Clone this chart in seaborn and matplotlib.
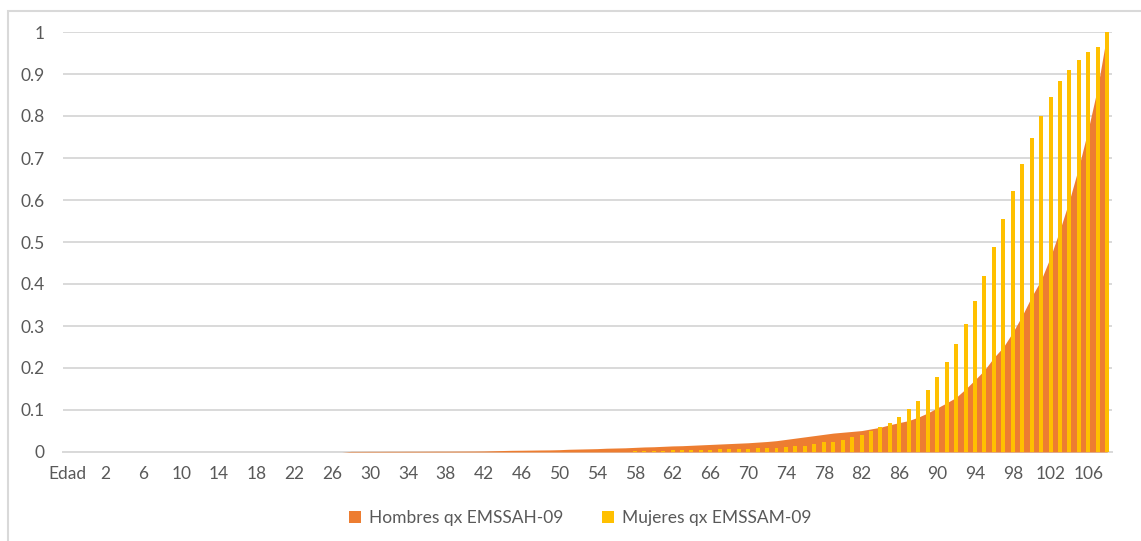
import numpy as np
import pandas as pd
import matplotlib
matplotlib.use("Agg")
import matplotlib.pyplot as plt
from matplotlib.patches import Patch, Rectangle
import seaborn as sns

# Category axis: header cell, a blank row, then ages 0..108
ages = list(range(0, 109))
categories = ["Edad", " "] + [str(a) for a in ages]

# qx, men (EMSSAH-09), ages 0..108
hombres_qx = [
    0, 0, 0, 0, 0, 0, 0, 0, 0, 0,                      # 0-9
    0, 0, 0, 0, 0, 0, 0, 0, 0, 0,                      # 10-19
    0, 0, 0, 0, 0, 0, 0, 0, 0.0015, 0.0015,            # 20-29
    0.0016, 0.0016, 0.0017, 0.0017, 0.0018, 0.0018, 0.0019, 0.0020, 0.0020, 0.0021,  # 30-39
    0.0022, 0.0023, 0.0025, 0.0030, 0.0035, 0.0040, 0.0042, 0.0045, 0.0048, 0.0050,  # 40-49
    0.0055, 0.0065, 0.0070, 0.0075, 0.0080, 0.0090, 0.0095, 0.0100, 0.0110, 0.0120,  # 50-59
    0.0125, 0.0135, 0.0145, 0.0150, 0.0160, 0.0170, 0.0180, 0.0190, 0.0200, 0.0210,  # 60-69
    0.0220, 0.0235, 0.0250, 0.0270, 0.0300, 0.0330, 0.0360, 0.0390, 0.0420, 0.0450,  # 70-79
    0.0470, 0.0490, 0.0510, 0.0550, 0.0590, 0.0650, 0.0700, 0.0750, 0.0830, 0.0930,  # 80-89
    0.105, 0.117, 0.130, 0.150, 0.172, 0.195, 0.225, 0.250, 0.285, 0.325,            # 90-99
    0.370, 0.410, 0.465, 0.530, 0.600, 0.680, 0.770, 0.870, 1.000,                   # 100-108
]

# qx, women (EMSSAM-09), ages 0..108
mujeres_qx = [
    0, 0, 0, 0, 0, 0, 0, 0, 0, 0,                      # 0-9
    0, 0, 0, 0, 0, 0, 0, 0, 0, 0,                      # 10-19
    0, 0, 0, 0, 0, 0, 0, 0, 0, 0,                      # 20-29
    0, 0, 0, 0, 0, 0, 0, 0, 0, 0,                      # 30-39
    0, 0, 0, 0, 0, 0, 0, 0, 0, 0,                      # 40-49
    0, 0, 0, 0, 0, 0, 0, 0, 0.0030, 0.0030,            # 50-59
    0.0035, 0.0035, 0.0040, 0.0040, 0.0045, 0.0050, 0.0055, 0.0060, 0.0065, 0.0070,  # 60-69
    0.0075, 0.0085, 0.0095, 0.0100, 0.0120, 0.0140, 0.0150, 0.0190, 0.0230, 0.0250,  # 70-79
    0.029, 0.036, 0.040, 0.050, 0.059, 0.069, 0.083, 0.102, 0.121, 0.148,            # 80-89
    0.178, 0.214, 0.257, 0.305, 0.360, 0.420, 0.488, 0.555, 0.622, 0.686,            # 90-99
    0.748, 0.800, 0.845, 0.883, 0.910, 0.934, 0.953, 0.965, 1.000,                   # 100-108
]

serie_h = "Hombres qx EMSSAH-09"
serie_m = "Mujeres qx EMSSAM-09"

df = pd.DataFrame({
    "cat": categories,
    "h": [0, 0] + hombres_qx,
    "m": [0, 0] + mujeres_qx,
})

ORANGE = "#ED7D31"
YELLOW = "#FFC000"
GRID = "#D9D9D9"
TEXT = "#595959"

sns.set_theme(style="white")
plt.rcParams["font.family"] = ["Lato", "DejaVu Sans"]

W, H = 1141, 541
fig = plt.figure(figsize=(W / 100, H / 100), dpi=100)
ax = fig.add_axes([63 / W, 1 - 452 / H, (1112 - 63) / W, (452 - 32) / H])

# Chart frame
fig.patches.append(Rectangle((8 / W, -0.1), 1.2, 0.1 + (H - 10.5) / H,
                             transform=fig.transFigure, fill=False,
                             edgecolor=GRID, linewidth=1.5, zorder=0))

# Men: area series on the category positions
pos = np.arange(len(df))
ax.fill_between(pos, 0, df["h"], color=ORANGE, linewidth=0, zorder=2)

# Women: clustered columns in front
sns.barplot(data=df, x="cat", y="m", order=categories, color=YELLOW,
            width=0.42, saturation=1, linewidth=0, ax=ax, zorder=3)

ax.set_xlim(-0.5, len(df) - 0.5)
ax.set_ylim(0, 1)
yt = np.round(np.arange(0, 1.01, 0.1), 1)
ax.set_yticks(yt)
ax.set_yticklabels(["0"] + [f"{v:g}" for v in yt[1:]])
ax.yaxis.grid(True, color=GRID, linewidth=1.4, zorder=0)
ax.set_axisbelow(True)

tick_idx = list(range(0, len(df), 4))
ax.set_xticks(tick_idx)
ax.set_xticklabels([categories[i] for i in tick_idx])

for s in ["top", "right", "left"]:
    ax.spines[s].set_visible(False)
ax.spines["bottom"].set_color(GRID)
ax.spines["bottom"].set_linewidth(1.4)
ax.spines["bottom"].set_zorder(1)

ax.tick_params(axis="y", length=0, pad=13, labelsize=12.5, labelcolor=TEXT)
ax.tick_params(axis="x", length=0, pad=10, labelsize=12.5, labelcolor=TEXT)
ax.set_xlabel("")
ax.set_ylabel("")

handles = [Patch(facecolor=ORANGE, edgecolor="none", label=serie_h),
           Patch(facecolor=YELLOW, edgecolor="none", label=serie_m)]
fig.legend(handles=handles, loc="center", bbox_to_anchor=(580 / W, 1 - 518 / H),
           ncol=2, frameon=False, fontsize=12.5, labelcolor=TEXT,
           handlelength=0.7, handleheight=0.7, handletextpad=0.45,
           columnspacing=2.2)

fig.savefig("out.png", dpi=100, facecolor="white")
